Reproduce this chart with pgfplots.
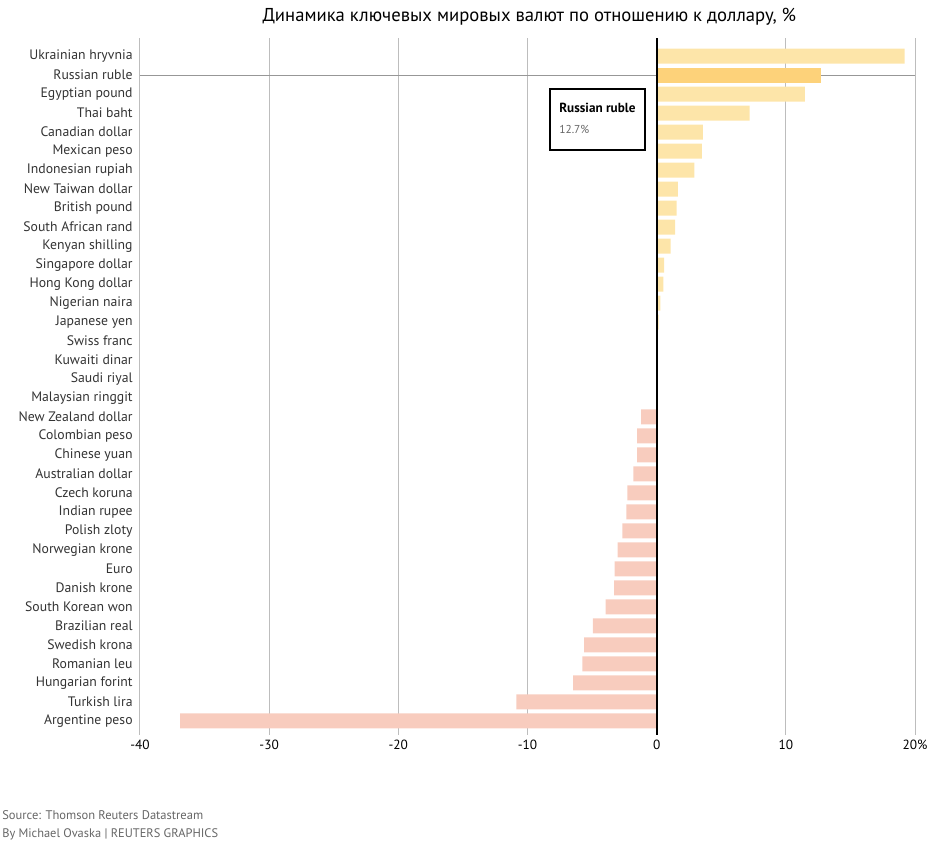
\documentclass[border=0pt]{standalone}
\usepackage{pgfplots}
\pgfplotsset{compat=1.18}
\usepackage{fontspec}
\setmainfont{PT Sans}
\definecolor{pos}{HTML}{FDE5A9}
\definecolor{hl}{HTML}{FDD27A}
\definecolor{neg}{HTML}{F8CCBE}
\definecolor{gridc}{HTML}{BDBDBD}
\definecolor{lab}{HTML}{333333}
\definecolor{src}{HTML}{666666}
\begin{document}
\begin{tikzpicture}
\path[use as bounding box] (-105pt,-81pt) rectangle (607.5pt,551.25pt);
\begin{axis}[
  at={(0,0)}, anchor=south west,
  scale only axis, width=581.25pt, height=522.75pt,
  xmin=-40, xmax=20, ymin=-0.95, ymax=35.74,
  y dir=reverse,
  axis line style={draw=none},
  xtick={-40,-30,-20,-10,0,10,20},
  xticklabels={-40,-30,-20,-10,0,10,20\%},
  ytick={0,...,35},
  yticklabels={Ukrainian hryvnia,Russian ruble,Egyptian pound,Thai baht,Canadian dollar,Mexican peso,Indonesian rupiah,New Taiwan dollar,British pound,South African rand,Kenyan shilling,Singapore dollar,Hong Kong dollar,Nigerian naira,Japanese yen,Swiss franc,Kuwaiti dinar,Saudi riyal,Malaysian ringgit,New Zealand dollar,Colombian peso,Chinese yuan,Australian dollar,Czech koruna,Indian rupee,Polish zloty,Norwegian krone,Euro,Danish krone,South Korean won,Brazilian real,Swedish krona,Romanian leu,Hungarian forint,Turkish lira,Argentine peso},
  major tick length=0pt,
  xmajorgrids, major grid style={gridc, line width=0.75pt},
  yticklabel style={font=\fontsize{10.3pt}{12pt}\selectfont, text=lab, xshift=-2pt},
  xticklabel style={font=\fontsize{10pt}{12pt}\selectfont, text=black, yshift=0pt},
  xbar, bar width=11.25pt, bar shift=0pt,
  clip=false,
]
\draw[gridc!80!black, line width=0.75pt] (axis cs:-40,1) -- (axis cs:20,1);
\addplot[fill=pos, draw=none] coordinates {
(19.2,0) (11.47,2) (7.19,3) (3.58,4) (3.5,5) (2.92,6) (1.65,7) (1.55,8) (1.42,9) (1.08,10) (0.57,11) (0.52,12) (0.28,13) (0.15,14) (0.05,15) (0,16) (0,17) (0,18)
};
\addplot[fill=hl, draw=none] coordinates {(12.7,1)};
\addplot[fill=neg, draw=none] coordinates {
(-1.21,19) (-1.52,20) (-1.52,21) (-1.8,22) (-2.27,23) (-2.35,24) (-2.66,25) (-3.02,26) (-3.25,27) (-3.3,28) (-3.95,29) (-4.93,30) (-5.62,31) (-5.75,32) (-6.47,33) (-10.87,34) (-36.9,35)
};
\draw[black, line width=1.5pt] (axis cs:0,-0.95) -- (axis cs:0,35.74);
\end{axis}
\node[font=\fontsize{14pt}{16pt}\selectfont, text=black] at (292pt,538.5pt) {Динамика ключевых мировых валют по отношению к доллару, \%};
\draw[black, line width=0.8pt, fill=white] (307.5pt,438.75pt) rectangle (378.75pt,484.5pt);
\node[anchor=west, font=\fontsize{9.9pt}{12pt}\selectfont\bfseries, inner sep=0pt] at (314.25pt,470.25pt) {Russian ruble};
\node[anchor=west, font=\fontsize{8.6pt}{10pt}\selectfont, text=src, inner sep=0pt] at (314.25pt,454.5pt) {12.7\%};
\node[anchor=west, font=\fontsize{9.4pt}{11pt}\selectfont, text=src, inner sep=0pt] at (-103.5pt,-60pt) {Source: Thomson Reuters Datastream};
\node[anchor=west, font=\fontsize{9.3pt}{11pt}\selectfont, text=src, inner sep=0pt] at (-103.5pt,-74.25pt) {By Michael Ovaska | REUTERS GRAPHICS};
\end{tikzpicture}
\end{document}
